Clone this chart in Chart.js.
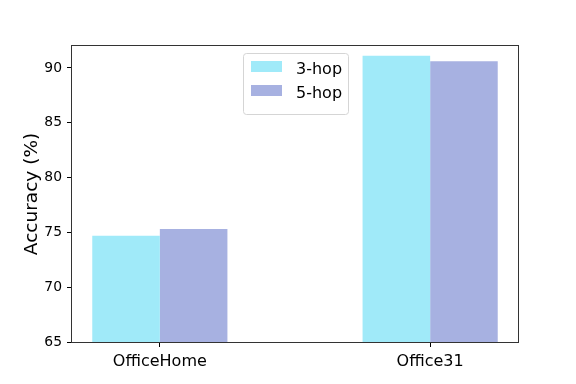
<!DOCTYPE html>
<html>
<head>
<meta charset="utf-8">
<script src="https://cdn.jsdelivr.net/npm/chart.js@4"></script>
<style>
  html, body { margin: 0; padding: 0; background: #fff; }
  #c { display: block; }
</style>
</head>
<body>
<canvas id="c" width="576" height="384"></canvas>
<script>
const categories = ['OfficeHome', 'Office31'];
const seriesNames = ['3-hop', '5-hop'];
const hop3 = [74.7, 91.1];
const hop5 = [75.3, 90.6];
const yTicks = [65, 70, 75, 80, 85, 90];
const colors = ['#A0EAF9', '#A7B1E1'];

const FONT = "'DejaVu Sans', sans-serif";

const framePlugin = {
  id: 'frame',
  afterDatasetsDraw(chart) {
    const {ctx, chartArea: a} = chart;
    ctx.save();
    ctx.strokeStyle = '#333';
    ctx.lineWidth = 1;
    ctx.strokeRect(Math.round(a.left) - 0.5, Math.round(a.top) - 0.5, Math.round(a.right - a.left) + 1, Math.round(a.bottom - a.top) + 1);
    ctx.restore();
  }
};

const legendPlugin = {
  id: 'boxLegend',
  afterDraw(chart) {
    const {ctx, chartArea: a} = chart;
    const w = 105, h = 61;
    const x0 = Math.round((a.left + a.right) / 2 - w / 2) + 0.5;
    const y0 = Math.round(a.top + 7) + 0.5;
    ctx.save();
    ctx.beginPath();
    if (ctx.roundRect) ctx.roundRect(x0, y0, w, h, 3); else ctx.rect(x0, y0, w, h);
    ctx.fillStyle = 'rgba(255,255,255,0.8)';
    ctx.fill();
    ctx.strokeStyle = '#d5d5d5';
    ctx.lineWidth = 1;
    ctx.stroke();
    ctx.font = '16px ' + FONT;
    ctx.textBaseline = 'alphabetic';
    ctx.textAlign = 'left';
    chart.data.datasets.forEach((ds, i) => {
      const sy = y0 - 0.5 + 8 + i * 24;
      ctx.fillStyle = ds.backgroundColor;
      ctx.fillRect(x0 - 0.5 + 8, sy, 31, 11);
      ctx.fillStyle = '#000';
      ctx.fillText(ds.label, x0 - 0.5 + 53, sy + 13);
    });
    ctx.restore();
  }
};

new Chart(document.getElementById('c'), {
  type: 'bar',
  data: {
    datasets: [
      { label: seriesNames[0], data: hop3.map((v, i) => ({x: i, y: v})), backgroundColor: colors[0], borderWidth: 0 },
      { label: seriesNames[1], data: hop5.map((v, i) => ({x: i, y: v})), backgroundColor: colors[1], borderWidth: 0 }
    ]
  },
  options: {
    responsive: false,
    animation: false,
    devicePixelRatio: 1,
    categoryPercentage: 0.5,
    barPercentage: 1.0,
    layout: { padding: { left: 0, right: 58, top: 46, bottom: 0 } },
    plugins: {
      legend: { display: false },
      tooltip: { enabled: false }
    },
    scales: {
      x: {
        type: 'linear',
        offset: false,
        min: -0.325,
        max: 1.325,
        afterBuildTicks(scale) { scale.ticks = categories.map((_, i) => ({value: i})); },
        afterFit(scale) { scale.height = 42; },
        ticks: {
          callback: (v) => categories[v],
          color: '#000',
          padding: 5,
          font: { family: FONT, size: 16 },
          maxRotation: 0,
          autoSkip: false
        },
        grid: { offset: false, drawOnChartArea: false, drawTicks: true, tickLength: 5, tickColor: '#000', tickWidth: 1 },
        border: { display: false }
      },
      y: {
        min: 65,
        max: 92,
        afterBuildTicks(scale) { scale.ticks = yTicks.map(v => ({value: v})); },
        afterFit(scale) { scale.width = 72; },
        ticks: {
          color: '#000',
          padding: 5,
          font: { family: FONT, size: 13.9 }
        },
        grid: { drawOnChartArea: false, drawTicks: true, tickLength: 5, tickColor: '#000', tickWidth: 1 },
        border: { display: false },
        title: {
          display: true,
          text: 'Accuracy (%)',
          color: '#000',
          font: { family: FONT, size: 18.5 },
          padding: { top: 21, bottom: 0 }
        }
      }
    }
  },
  plugins: [framePlugin, legendPlugin]
});
</script>
</body>
</html>
